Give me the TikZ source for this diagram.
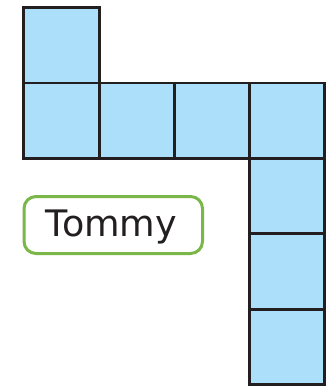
\documentclass[tikz,border=0pt]{standalone}
\usepackage{fontspec}
\setmainfont{DejaVu Sans}
\definecolor{cellblue}{HTML}{ABDFFA}
\definecolor{edgegray}{HTML}{231F20}
\definecolor{tagGreen}{HTML}{7AB648}
\begin{document}
\begin{tikzpicture}[x=1pt,y=-1pt,
  cell/.style={fill=cellblue,draw=edgegray,line width=2.4pt,line join=miter},
  tag/.style={draw=tagGreen,line width=3pt,rounded corners=12pt,fill=white}]
\useasboundingbox (0,0) rectangle (327,387);
% top square
\draw[cell] (23.5,7.5) rectangle (99.5,83);
% row
\draw[cell] (23.5,83) rectangle (99.5,158.5);
\draw[cell] (99.5,83) rectangle (174.5,158.5);
\draw[cell] (174.5,83) rectangle (249.5,158.5);
\draw[cell] (249.5,83) rectangle (324.5,158.5);
% column
\draw[cell] (249.5,158.5) rectangle (324.5,233.5);
\draw[cell] (249.5,233.5) rectangle (324.5,309.5);
\draw[cell] (249.5,309.5) rectangle (324.5,384.5);
% label
\draw[tag] (24,196.5) rectangle (202.5,253.5);
\node[anchor=base,text=edgegray,font=\fontsize{36.5}{40}\selectfont,inner sep=0pt] (tommy) at (111.5,236.5) {Tommy};
\end{tikzpicture}
\end{document}
